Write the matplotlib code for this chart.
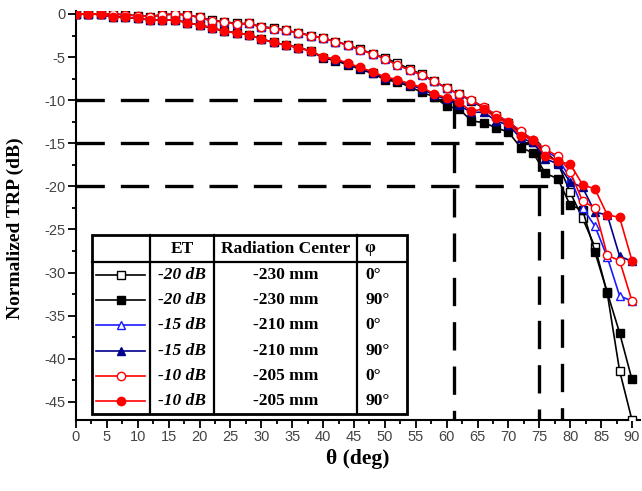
import matplotlib
matplotlib.use("Agg")
import matplotlib.pyplot as plt
from matplotlib.lines import Line2D
from matplotlib.patches import Rectangle
from matplotlib.ticker import MultipleLocator

plt.rcParams['axes.unicode_minus'] = False

theta = [0, 2, 4, 6, 8, 10, 12, 14, 16, 18, 20, 22, 24, 26, 28, 30, 32, 34, 36, 38,
         40, 42, 44, 46, 48, 50, 52, 54, 56, 58, 60, 62, 64, 66, 68, 70, 72, 74, 76, 78,
         80, 82, 84, 86, 88, 90]

et20_phi0 = [0, 0, 0, 0, -0.1, -0.2, -0.3, -0.1, 0, -0.1, -0.4, -0.7, -0.9, -1.1, -1.1, -1.5, -1.6, -1.9, -2.2, -2.5,
             -2.8, -3.2, -3.6, -4.1, -4.6, -5.1, -5.7, -6.4, -7.0, -7.8, -8.6, -9.3, -10.1, -10.9, -11.8, -12.6, -13.8, -14.8, -16.0, -17.3,
             -20.7, -23.7, -27.0, -32.4, -41.4, -47.1]
et20_phi90 = [0, 0, -0.05, -0.35, -0.4, -0.5, -0.7, -0.7, -0.7, -1.0, -1.3, -1.6, -2.0, -2.2, -2.4, -2.9, -3.3, -3.6, -3.9, -4.3,
              -5.1, -5.4, -5.9, -6.4, -6.9, -7.6, -7.9, -8.4, -9.1, -9.6, -10.7, -11.0, -12.4, -12.6, -13.2, -13.7, -15.5, -16.1, -18.5, -19.1,
              -22.2, -22.7, -27.6, -32.3, -37.0, -42.4]
et15_phi0 = [0, 0, 0, 0, -0.1, -0.2, -0.3, -0.1, 0, -0.1, -0.4, -0.8, -0.9, -1.2, -1.1, -1.5, -1.7, -1.9, -2.2, -2.5,
             -2.8, -3.2, -3.6, -4.2, -4.6, -5.2, -5.9, -6.5, -7.1, -7.8, -8.6, -9.3, -10.0, -10.8, -11.7, -12.5, -13.6, -14.6, -15.8, -16.8,
             -19.0, -22.5, -24.6, -28.2, -32.7, -33.3]
et15_phi90 = [0, 0, -0.05, -0.35, -0.4, -0.5, -0.7, -0.7, -0.7, -1.0, -1.3, -1.6, -2.0, -2.2, -2.4, -2.9, -3.3, -3.6, -3.9, -4.3,
              -5.0, -5.3, -5.8, -6.3, -6.8, -7.4, -7.7, -8.2, -8.7, -9.4, -9.9, -10.6, -11.4, -11.4, -12.4, -12.9, -14.4, -14.9, -16.8, -17.4,
              -19.5, -20.1, -23.0, -23.3, -28.1, -28.7]
et10_phi0 = [0, 0, 0, 0, -0.1, -0.2, -0.3, -0.1, 0, -0.1, -0.4, -0.8, -0.9, -1.2, -1.1, -1.5, -1.7, -1.9, -2.2, -2.5,
             -2.8, -3.2, -3.6, -4.2, -4.6, -5.2, -5.9, -6.5, -7.1, -7.8, -8.6, -9.3, -10.0, -10.8, -11.7, -12.5, -13.6, -14.6, -15.7, -16.5,
             -18.3, -21.7, -22.5, -28.0, -28.6, -33.3]
et10_phi90 = [0, 0, -0.05, -0.35, -0.4, -0.5, -0.7, -0.7, -0.7, -1.0, -1.3, -1.6, -2.0, -2.2, -2.4, -2.9, -3.3, -3.6, -3.9, -4.3,
              -5.0, -5.2, -5.7, -6.2, -6.7, -7.3, -7.6, -8.1, -8.5, -9.3, -9.7, -10.2, -11.3, -11.0, -12.1, -12.7, -14.1, -14.6, -16.5, -17.1,
              -17.4, -19.8, -20.3, -23.3, -23.6, -28.6]

series = [et20_phi0, et20_phi90, et15_phi0, et15_phi90, et10_phi0, et10_phi90]
et_labels = ["-20 dB", "-20 dB", "-15 dB", "-15 dB", "-10 dB", "-10 dB"]
center_labels = ["-230 mm", "-230 mm", "-210 mm", "-210 mm", "-205 mm", "-205 mm"]
phi_labels = ["0°", "90°", "0°", "90°", "0°", "90°"]
header_labels = ["ET", "Radiation Center", "φ"]

# threshold guide lines: (level in dB, theta where curve crosses)
guide_levels = [-10, -15, -20]
guide_thetas = [61.2, 74.9, 78.6]

styles = [
    dict(color='black', marker='s', mfc='white', mec='black'),
    dict(color='black', marker='s', mfc='black', mec='black'),
    dict(color='#1a1aff', marker='^', mfc='white', mec='#1a1aff'),
    dict(color='#00008b', marker='^', mfc='#00008b', mec='#00008b'),
    dict(color='red', marker='o', mfc='white', mec='red'),
    dict(color='red', marker='o', mfc='red', mec='red'),
]
MS = 6.0

W, H = 642, 491
fig = plt.figure(figsize=(W / 100, H / 100), dpi=100)
ax = fig.add_axes([76 / W, 1 - 420 / H, (640 - 76) / W, (420 - 11.4) / H])

for ys, st in zip(series, styles):
    ax.plot(theta, ys, lw=1.2, ms=MS, mew=1.0, zorder=3, **st)

dash = (0, (8.5, 4.8))
ymin = -47.1
for lev, th in zip(guide_levels, guide_thetas):
    ax.plot([0, th], [lev, lev], color='black', lw=2.4, linestyle=dash, zorder=2)
    ax.plot([th, th], [lev, ymin], color='black', lw=2.4, linestyle=dash, zorder=2)

ax.set_xlim(0, 91.3)
ax.set_ylim(ymin, 0.3)
ax.xaxis.set_major_locator(MultipleLocator(5))
ax.xaxis.set_minor_locator(MultipleLocator(2.5))
ax.yaxis.set_major_locator(MultipleLocator(5))
ax.yaxis.set_minor_locator(MultipleLocator(2.5))
ax.spines['top'].set_visible(False)
ax.spines['right'].set_visible(False)
for s in ['left', 'bottom']:
    ax.spines[s].set_linewidth(1.5)
ax.tick_params(which='major', direction='out', length=5.5, width=1.3,
               labelsize=10.5, labelcolor='#444444', pad=2)
ax.tick_params(which='minor', direction='out', length=3, width=1.3)
for lab in ax.get_xticklabels() + ax.get_yticklabels():
    lab.set_fontfamily('Liberation Sans')

ax.set_xlabel('θ (deg)', fontsize=15.5, fontweight='bold', family='Liberation Serif', labelpad=3)
ax.set_ylabel('Normalized TRP (dB)', fontsize=14, fontweight='bold', family='Liberation Serif', labelpad=4)
ax.yaxis.set_label_coords(-0.092, 0.47)

# legend table, drawn in pixel coordinates on an overlay
tax = fig.add_axes([0, 0, 1, 1], facecolor='none')
tax.set_xlim(0, W)
tax.set_ylim(H, 0)
tax.axis('off')

x0, x1, x2, x3, x4 = 92, 150, 214, 357, 407
y0, yh, y1 = 235, 262, 414
tax.add_patch(Rectangle((x0, y0), x4 - x0, y1 - y0, facecolor='white', edgecolor='black', lw=2.0, zorder=5))
for xv in [x1, x2, x3]:
    tax.plot([xv, xv], [y0, y1], color='black', lw=1.6, zorder=6)
tax.plot([x0, x4], [yh, yh], color='black', lw=1.6, zorder=6)

tfont = dict(family='Liberation Serif', fontweight='bold', fontsize=12.5, zorder=7, va='center', ha='center')
tax.text((x1 + x2) / 2, (y0 + yh) / 2, header_labels[0], **tfont)
tax.text((x2 + x3) / 2, (y0 + yh) / 2, header_labels[1], **tfont)
tax.text(370, (y0 + yh) / 2, header_labels[2], **tfont)

rh = (y1 - yh) / 6
for i, st in enumerate(styles):
    yc = yh + rh * (i + 0.5)
    tax.add_line(Line2D([96, 145], [yc, yc], lw=1.2, color=st['color'], zorder=7))
    tax.add_line(Line2D([120.5], [yc], lw=0, ms=MS, mew=1.0, zorder=8, **st))
    tax.text((x1 + x2) / 2, yc, et_labels[i], style='italic', **tfont)
    tax.text((x2 + x3) / 2, yc, center_labels[i], **tfont)
    tax.text(365, yc, phi_labels[i], **{**tfont, 'ha': 'left'})

fig.savefig('out.png', dpi=100)
